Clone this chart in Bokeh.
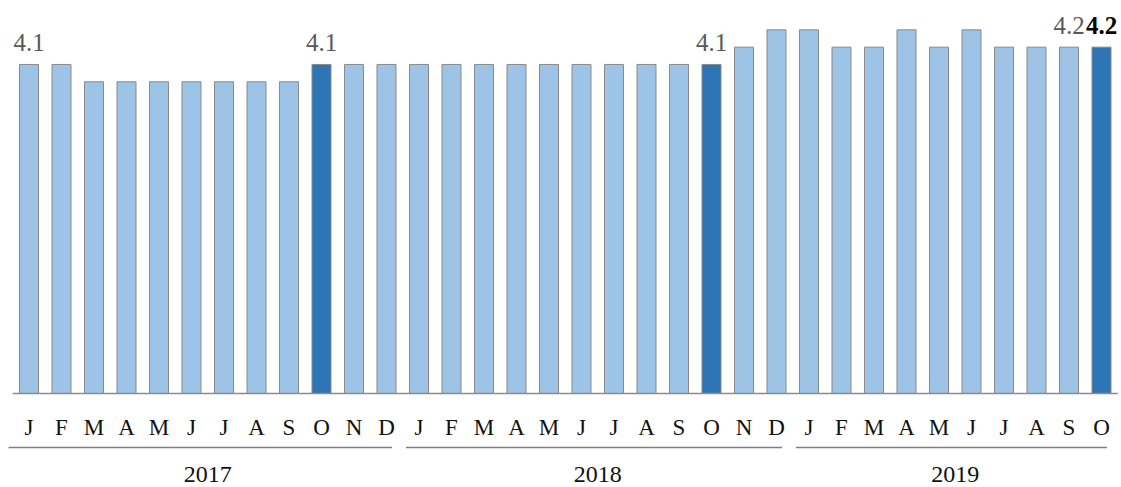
from bokeh.plotting import figure
from bokeh.models import ColumnDataSource, Range1d
from bokeh.core.properties import value
from bokeh.embed import file_html
from bokeh.resources import INLINE

# ---- data ----
years = ["2017", "2018", "2019"]
months = ["J", "F", "M", "A", "M", "J", "J", "A", "S", "O", "N", "D"]
values_2017 = [4.1, 4.1, 4.0, 4.0, 4.0, 4.0, 4.0, 4.0, 4.0, 4.1, 4.1, 4.1]
values_2018 = [4.1, 4.1, 4.1, 4.1, 4.1, 4.1, 4.1, 4.1, 4.1, 4.1, 4.2, 4.3]
values_2019 = [4.3, 4.2, 4.2, 4.3, 4.2, 4.3, 4.2, 4.2, 4.2, 4.2]
highlight_month = 9            # October bars are dark
labelled = [(2017, 0), (2017, 9), (2018, 9), (2019, 8), (2019, 9)]  # (year, month index)
bold_label = (2019, 9)

series = [values_2017, values_2018, values_2019]

# ---- build positions ----
xs, vals, mlabels, colors = [], [], [], []
year_spans = []
i = 0
for y, vs in zip(years, series):
    start = i
    for m, v in enumerate(vs):
        xs.append(i)
        vals.append(v)
        mlabels.append(months[m])
        colors.append("#2E75B6" if m == highlight_month else "#9DC3E6")
        i += 1
    year_spans.append((y, start, i - 1))

BASE = 2.198
PXU = 173.0
W, H = 1121, 487
PITCH = 32.5
C0 = 28.5


def ry(px):
    return BASE - (px - 393.0) / PXU


p = figure(width=W, height=H,
           x_range=Range1d(-C0 / PITCH, (W - C0) / PITCH),
           y_range=Range1d(ry(H), ry(0)),
           x_axis_type=None, y_axis_type=None,
           output_backend="svg", toolbar_location=None,
           min_border=0, min_border_left=0, min_border_right=0,
           min_border_top=0, min_border_bottom=0,
           outline_line_color=None)
p.grid.visible = False
p.background_fill_color = "white"
p.border_fill_color = "white"

src = ColumnDataSource(dict(x=xs, top=vals, color=colors, m=mlabels,
                            my=[ry(427)] * len(xs)))
p.vbar(x="x", top="top", bottom=BASE, width=0.585, fill_color="color",
       line_color="#8a8a8a", line_width=1, source=src)

# baseline
p.segment(x0=[-0.5], y0=[BASE], x1=[33.5], y1=[BASE],
          line_color="#8c8c8c", line_width=1.5)

# month labels
p.text(x="x", y="my", text="m", source=src, text_font=value("Liberation Serif"),
       text_font_size="23px", text_align="center", text_baseline="alphabetic",
       text_color="#111111")

# year separators and labels
yx0, yx1, yc, ynames = [], [], [], []
for y, s, e in year_spans:
    yx0.append(s - (0.63 if s == 0 else 0.4))
    yx1.append(e + 0.17)
    yc.append((s + e) / 2)
    ynames.append(y)
p.segment(x0=yx0, y0=[ry(447)] * 3, x1=yx1, y1=[ry(447)] * 3,
          line_color="#7f7f7f", line_width=1.5)
p.text(x=yc, y=[ry(474)] * 3, text=ynames, text_font=value("Liberation Serif"),
       text_font_size="24px", text_align="center", text_baseline="alphabetic",
       text_color="#111111")

# value labels
year_offset = {2017: 0, 2018: 12, 2019: 24}
lx, ly, lt = [], [], []
for (yr, mi) in labelled:
    if (yr, mi) == bold_label:
        continue
    k = year_offset[yr] + mi
    lx.append(k)
    ly.append(vals[k])
    lt.append(f"{vals[k]:.1f}")
p.text(x=lx, y=ly, text=lt, y_offset=-22, text_font=value("Liberation Serif"),
       text_font_size="25px", text_align="center", text_baseline="alphabetic",
       text_color="#595959")
kb = year_offset[bold_label[0]] + bold_label[1]
p.text(x=[kb], y=[vals[kb]], text=[f"{vals[kb]:.1f}"], y_offset=-22,
       text_font=value("Liberation Serif"), text_font_size="25px",
       text_font_style="bold", text_align="center", text_baseline="alphabetic",
       text_color="#000000")

open("out.html", "w").write(file_html(p, INLINE))
